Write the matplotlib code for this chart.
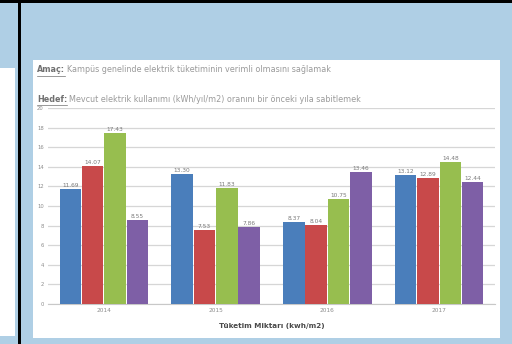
import matplotlib
matplotlib.use("Agg")
import matplotlib.pyplot as plt
import numpy as np
from matplotlib.patches import Rectangle
from matplotlib.lines import Line2D

# Consumption per year group, four series
years = ["2014", "2015", "2016", "2017"]
blue_vals = [11.69, 13.30, 8.37, 13.12]
red_vals = [14.07, 7.53, 8.04, 12.89]
green_vals = [17.43, 11.83, 10.75, 14.48]
purple_vals = [8.55, 7.86, 13.46, 12.44]
y_ticks = list(range(0, 21, 2))

series = [blue_vals, red_vals, green_vals, purple_vals]
colors = ["#4A7EBB", "#C8494A", "#97BE4F", "#7E5FA6"]

W, H = 512, 344
fig = plt.figure(figsize=(W / 100, H / 100), dpi=100)
fig.patch.set_facecolor("#AFCFE5")


def px_rect(x0, y0, x1, y1, **kw):
    """Rectangle given in pixel coordinates measured from the top-left."""
    r = Rectangle((x0 / W, 1 - y1 / H), (x1 - x0) / W, (y1 - y0) / H,
                  transform=fig.transFigure, zorder=-5, **kw)
    fig.add_artist(r)
    return r


# Frame lines and white panels
px_rect(0, 68, 15, 336, facecolor="white", edgecolor="none")
px_rect(33, 60, 500, 338, facecolor="white", edgecolor="none")
px_rect(0, 0, W, 3, facecolor="black", edgecolor="none")
px_rect(17.5, 0, 20.5, H, facecolor="black", edgecolor="none")

# Bar chart
ax = fig.add_axes([48 / W, 1 - 304 / H, 447 / W, (304 - 108) / H])
ax.set_zorder(5)
ax.set_facecolor("none")
x = np.arange(len(years))
bw = 0.2
for i, (vals, c) in enumerate(zip(series, colors)):
    pos = x + (i - 1.5) * bw
    bars = ax.bar(pos, vals, width=bw * 0.96, color=c, edgecolor="none", zorder=3)
    for b, v in zip(bars, vals):
        ax.text(b.get_x() + b.get_width() / 2, v + 0.1, f"{v:.2f}",
                ha="center", va="bottom", fontsize=4.2, color="#7A7A7A", zorder=4)

ax.set_xlim(-0.5, len(years) - 0.5)
ax.set_ylim(0, 20)
ax.set_yticks(y_ticks)
ax.set_yticklabels([str(t) for t in y_ticks], fontsize=3.8, color="#8C8C8C")
ax.set_xticks(x)
ax.set_xticklabels(years, fontsize=4.2, color="#8C8C8C")
ax.tick_params(axis="both", length=0, pad=3)
ax.grid(axis="y", color="#D6D6D6", linewidth=0.9, zorder=0)
for s in ["top", "right", "left"]:
    ax.spines[s].set_visible(False)
ax.spines["bottom"].set_color("#C8C8C8")
ax.spines["bottom"].set_linewidth(0.8)
ax.set_xlabel("Tüketim Miktarı (kwh/m2)", fontsize=5.2, color="#4A4A4A",
              fontweight="bold", labelpad=7)

# Headline texts
fig.canvas.draw()
renderer = fig.canvas.get_renderer()


def labeled_line(y_px, head, rest):
    t1 = fig.text(37 / W, 1 - y_px / H, head, fontsize=5.8, fontweight="bold",
                  color="#707070", va="center", ha="left")
    bb = t1.get_window_extent(renderer)
    fig.text((bb.x1 + 2) / W, 1 - y_px / H, rest, fontsize=5.8,
             color="#9A9A9A", va="center", ha="left")
    fig.add_artist(Line2D([bb.x0 / W, bb.x1 / W],
                          [(bb.y0 - 1) / H, (bb.y0 - 1) / H],
                          transform=fig.transFigure, color="#707070", lw=0.5))


labeled_line(70, "Amaç:", "Kampüs genelinde elektrik tüketiminin verimli olmasını sağlamak")
labeled_line(99, "Hedef:", "Mevcut elektrik kullanımı (kWh/yıl/m2) oranını bir önceki yıla sabitlemek")

fig.savefig("out.png", dpi=100, facecolor=fig.get_facecolor())
